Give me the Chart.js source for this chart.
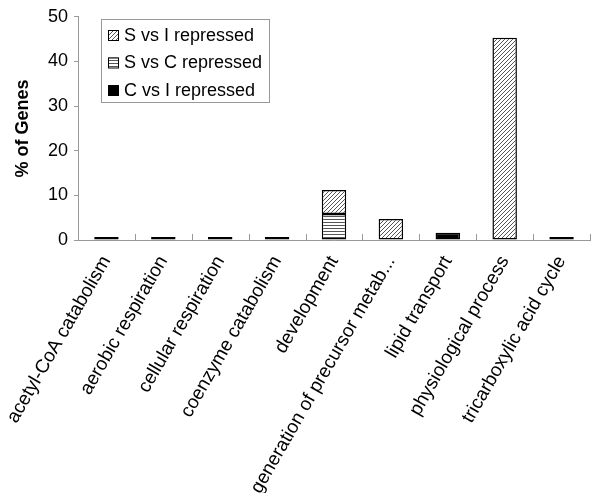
<!DOCTYPE html>
<html>
<head>
<meta charset="utf-8">
<script src="https://cdn.jsdelivr.net/npm/chart.js@4.4.0/dist/chart.umd.min.js"></script>
<style>
  body { margin: 0; background: #fff; }
  #wrap { width: 600px; height: 493px; }
</style>
</head>
<body>
<div id="wrap"><canvas id="genes" width="600" height="493"></canvas></div>
<script>
// categories and values
const categories = [
  'acetyl-CoA catabolism', 'aerobic respiration', 'cellular respiration',
  'coenzyme catabolism', 'development', 'generation of precursor metab...',
  'lipid transport', 'physiological process', 'tricarboxylic acid cycle'
];
const sVsI = [0.7, 0.7, 0.7, 0.7, 5.4, 4.7, null, 45.3, 0.7];
const sVsC = [null, null, null, null, 5.8, null, null, null, null];
const cVsI = [null, null, null, null, null, null, 1.6, null, null];
const yTicks = [0, 10, 20, 30, 40, 50];
const legendOrder = ['S vs I repressed', 'S vs C repressed', 'C vs I repressed'];

const FONT = 'Liberation Sans, Arial, sans-serif';

function makePattern(kind) {
  const c = document.createElement('canvas');
  const s = kind === 'diag' ? 4 : 3;
  c.width = s; c.height = s;
  const g = c.getContext('2d');
  g.fillStyle = '#fff';
  g.fillRect(0, 0, s, s);
  g.strokeStyle = '#555';
  g.lineWidth = 1;
  g.beginPath();
  if (kind === 'diag') {
    g.moveTo(-1, s + 1); g.lineTo(s + 1, -1);
    g.moveTo(-1, 1); g.lineTo(1, -1);
    g.moveTo(s - 1, s + 1); g.lineTo(s + 1, s - 1);
  } else {
    g.moveTo(0, 0.5); g.lineTo(s, 0.5);
  }
  g.stroke();
  return g.createPattern(c, 'repeat');
}

const diag = makePattern('diag');
const horiz = makePattern('horiz');

// little tick marks between categories, pointing up from the baseline
const innerTicks = {
  id: 'innerTicks',
  afterDatasetsDraw(chart) {
    const x = chart.scales.x, y = chart.scales.y;
    const ctx = chart.ctx;
    const base = y.getPixelForValue(0);
    const step = x.getPixelForValue(1) - x.getPixelForValue(0);
    ctx.save();
    ctx.strokeStyle = '#999';
    ctx.lineWidth = 1;
    ctx.beginPath();
    for (let i = 0; i <= categories.length; i++) {
      const px = Math.round(x.getPixelForValue(0) - step / 2 + i * step) + 0.5;
      ctx.moveTo(px, base);
      ctx.lineTo(px, base - 6);
    }
    ctx.stroke();
    ctx.restore();
  }
};

// boxed legend inside the plot
const boxLegend = {
  id: 'boxLegend',
  afterDraw(chart) {
    const ctx = chart.ctx;
    const left = 101, top = 19, w = 168, h = 83;
    ctx.save();
    ctx.fillStyle = '#fff';
    ctx.fillRect(left, top, w, h);
    ctx.strokeStyle = '#999';
    ctx.lineWidth = 1;
    ctx.strokeRect(left + 0.5, top + 0.5, w, h);
    ctx.font = '18px ' + FONT;
    ctx.textBaseline = 'middle';
    legendOrder.forEach((label, i) => {
      const ds = chart.data.datasets.find(d => d.label === label);
      const cy = top + 16 + i * 27.5;
      ctx.fillStyle = ds.backgroundColor;
      ctx.fillRect(108, cy - 5, 11, 11);
      ctx.strokeStyle = '#000';
      ctx.strokeRect(108.5, cy - 4.5, 10, 10);
      ctx.fillStyle = '#000';
      ctx.fillText(label, 124, cy + 1);
    });
    ctx.restore();
  }
};

new Chart(document.getElementById('genes'), {
  type: 'bar',
  data: {
    labels: categories,
    datasets: [
      { label: 'S vs C repressed', data: sVsC, backgroundColor: horiz },
      { label: 'S vs I repressed', data: sVsI, backgroundColor: diag },
      { label: 'C vs I repressed', data: cVsI, backgroundColor: '#000' }
    ].map(d => Object.assign(d, {
      borderColor: '#000', borderWidth: 1.5, borderSkipped: false,
      barPercentage: 0.43, categoryPercentage: 1
    }))
  },
  options: {
    responsive: false,
    animation: false,
    layout: { padding: { top: 15, right: 10, left: 0, bottom: 0 } },
    plugins: { legend: { display: false }, tooltip: { enabled: false } },
    scales: {
      x: {
        stacked: true,
        grid: { display: false },
        border: { color: '#999', width: 1 },
        ticks: {
          color: '#000', font: { family: FONT, size: 19 },
          minRotation: 60, maxRotation: 60, autoSkip: false, padding: 4
        },
        afterFit(scale) { scale.height = 253; }
      },
      y: {
        stacked: true,
        min: 0, max: 50,
        afterBuildTicks(scale) { scale.ticks = yTicks.map(v => ({ value: v })); },
        grid: { drawOnChartArea: false, color: '#999', tickLength: 4 },
        border: { color: '#999', width: 1 },
        ticks: { color: '#000', font: { family: FONT, size: 18 }, padding: 6 },
        title: {
          display: true, text: '% of Genes', color: '#000',
          font: { family: FONT, size: 18, weight: 'bold' }, padding: { top: 12, bottom: 4 }
        },
        afterFit(scale) { scale.width = 78; }
      }
    }
  },
  plugins: [innerTicks, boxLegend]
});
</script>
</body>
</html>
